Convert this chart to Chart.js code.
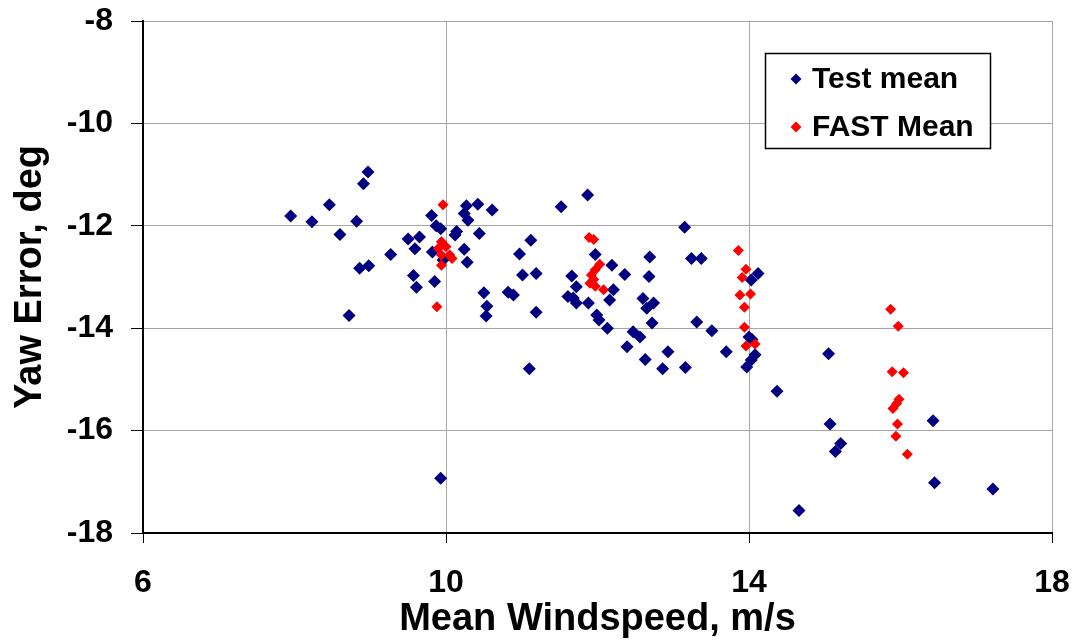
<!DOCTYPE html>
<html>
<head>
<meta charset="utf-8">
<script src="https://cdn.jsdelivr.net/npm/chart.js@4/dist/chart.umd.min.js"></script>
<style>
html,body{margin:0;padding:0;background:#fff;}
#wrap{width:1076px;height:642px;position:relative;}
</style>
</head>
<body>
<div id="wrap"><canvas id="c"></canvas></div>
<script>
// Data
const seriesNames = ["Test mean", "FAST Mean"];
const xTicks = [6, 10, 14, 18];
const yTicks = [-18, -16, -14, -12, -10, -8];
const xAxisTitle = "Mean Windspeed, m/s";
const yAxisTitle = "Yaw Error, deg";

const testMeanX = [7.95,8.23,8.46,8.60,8.82,8.97,8.91,8.86,8.98,8.72,9.27,9.50,9.65,9.59,9.57,9.61,9.85,9.81,9.87,9.93,9.82,9.96,9.93,
  10.12,10.14,10.27,10.42,10.24,10.29,10.61,10.44,10.24,10.28,10.50,10.54,10.53,10.82,10.89,11.12,10.97,11.01,11.19,11.19,11.10,
  11.52,11.87,11.97,11.66,11.72,11.61,11.68,11.72,11.88,11.99,12.02,12.13,12.19,12.36,12.21,12.16,
  12.69,12.68,12.60,12.65,12.74,12.72,12.47,12.56,12.39,12.63,12.86,12.93,13.16,13.15,13.24,13.37,13.31,13.51,13.70,
  14.12,14.03,14.00,14.04,14.08,14.03,13.97,14.37,15.05,15.07,15.21,15.14,16.43,16.45,17.22,14.66];
const testMeanY = [-11.81,-11.92,-11.59,-12.17,-11.91,-10.95,-11.18,-12.83,-12.78,-13.75,-12.56,-12.26,-12.22,-12.45,-12.97,-13.20,-13.09,-11.80,-12.00,-12.06,-12.51,-12.67,-16.93,
  -12.18,-12.11,-11.61,-11.58,-11.76,-11.89,-11.69,-12.15,-12.46,-12.71,-13.31,-13.57,-13.76,-13.30,-13.35,-12.28,-12.55,-12.96,-12.93,-13.69,-14.79,
  -11.63,-11.40,-12.56,-12.98,-13.19,-13.38,-13.41,-13.51,-13.51,-13.74,-13.84,-14.00,-12.77,-12.95,-13.25,-13.45,
  -12.61,-12.99,-13.42,-13.61,-13.51,-13.90,-14.07,-14.17,-14.36,-14.61,-14.79,-14.46,-14.77,-12.03,-12.64,-12.64,-13.88,-14.05,-14.46,
  -12.93,-13.06,-14.17,-14.22,-14.52,-14.62,-14.76,-15.23,-14.50,-15.87,-16.25,-16.41,-15.81,-17.02,-17.14,-17.56];

const fastMeanX = [9.96,9.88,9.94,10.00,9.90,10.05,9.94,9.94,10.08,
  11.89,11.95,12.03,11.97,11.92,11.95,11.90,11.97,12.08,
  13.86,13.96,13.91,13.88,14.02,13.94,13.94,13.96,14.08,
  15.87,15.97,15.89,16.04,15.98,15.95,15.90,15.96,15.94,16.09];
const fastMeanY = [-11.59,-13.58,-12.31,-12.41,-12.44,-12.57,-12.57,-12.77,-12.64,
  -12.23,-12.27,-12.75,-12.86,-12.96,-13.05,-13.12,-13.18,-13.25,
  -12.48,-12.85,-13.01,-13.35,-13.33,-13.59,-13.98,-14.35,-14.31,
  -13.63,-13.96,-14.85,-14.87,-15.39,-15.47,-15.57,-15.87,-16.11,-16.46];

const FONT = '"Liberation Sans", Arial, Helvetica, sans-serif';
const toPts = (xs, ys) => xs.map((x, i) => ({x: x, y: ys[i]}));

const legendBox = {
  id: 'legendBox',
  afterDraw(chart) {
    const ctx = chart.ctx;
    const L = 765, T = 53, W = 225, H = 95;
    ctx.save();
    ctx.fillStyle = '#fff';
    ctx.fillRect(L, T, W, H);
    ctx.strokeStyle = '#000';
    ctx.lineWidth = 1.5;
    ctx.strokeRect(L + 0.5, T + 0.5, W, H);
    ctx.font = 'bold 30px ' + FONT;
    ctx.textBaseline = 'middle';
    ctx.textAlign = 'left';
    chart.data.datasets.forEach((ds, i) => {
      const cy = T + 26 + i * 48;
      const cx = L + 31;
      const r = 5.5;
      ctx.fillStyle = ds.backgroundColor;
      ctx.beginPath();
      ctx.moveTo(cx - r, cy); ctx.lineTo(cx, cy - r); ctx.lineTo(cx + r, cy); ctx.lineTo(cx, cy + r);
      ctx.closePath(); ctx.fill();
      ctx.fillStyle = '#000';
      ctx.fillText(ds.label, L + 47, cy + 1);
    });
    ctx.restore();
  }
};

new Chart(document.getElementById('c'), {
  type: 'scatter',
  data: {
    datasets: [
      {label: seriesNames[0], data: toPts(testMeanX, testMeanY), backgroundColor: '#000080', borderColor: '#000080',
       pointStyle: 'rectRot', pointRadius: 6.5, pointBorderWidth: 0, pointHoverRadius: 6.5, order: 1},
      {label: seriesNames[1], data: toPts(fastMeanX, fastMeanY), backgroundColor: '#ff0000', borderColor: '#ff0000',
       pointStyle: 'rectRot', pointRadius: 5.5, pointBorderWidth: 0, pointHoverRadius: 5.5, order: 0}
    ]
  },
  options: {
    responsive: true,
    maintainAspectRatio: false,
    animation: false,
    events: [],
    layout: {padding: {top: 21, right: 24, bottom: 0, left: 0}},
    plugins: {legend: {display: false}, tooltip: {enabled: false}},
    scales: {
      x: {
        type: 'linear', min: 6, max: 18,
        afterBuildTicks: s => { s.ticks = xTicks.map(v => ({value: v})); },
        afterFit: s => { s.height = 109; s.paddingLeft = 0; s.paddingRight = 0; },
        grid: {color: '#a6a6a6', lineWidth: 1, tickColor: '#000', tickLength: 10, drawTicks: true},
        border: {color: '#000', width: 2},
        ticks: {color: '#000', font: {family: FONT, size: 32, weight: 'bold'}, padding: 21, maxRotation: 0},
        title: {display: true, text: xAxisTitle, color: '#000', font: {family: FONT, size: 38, weight: 'bold'}, padding: {top: 0, bottom: 0}}
      },
      y: {
        type: 'linear', min: -18, max: -8,
        afterBuildTicks: s => { s.ticks = yTicks.map(v => ({value: v})); },
        afterFit: s => { s.width = 143; s.paddingTop = 0; s.paddingBottom = 0; },
        grid: {color: '#a6a6a6', lineWidth: 1, tickColor: '#000', tickLength: 12, drawTicks: true},
        border: {color: '#000', width: 2},
        ticks: {color: '#000', font: {family: FONT, size: 32, weight: 'bold'}, padding: 18},
        title: {display: true, text: yAxisTitle, color: '#000', font: {family: FONT, size: 38, weight: 'bold'}, padding: {top: 8, bottom: 0}}
      }
    }
  },
  plugins: [legendBox]
});
</script>
</body>
</html>
